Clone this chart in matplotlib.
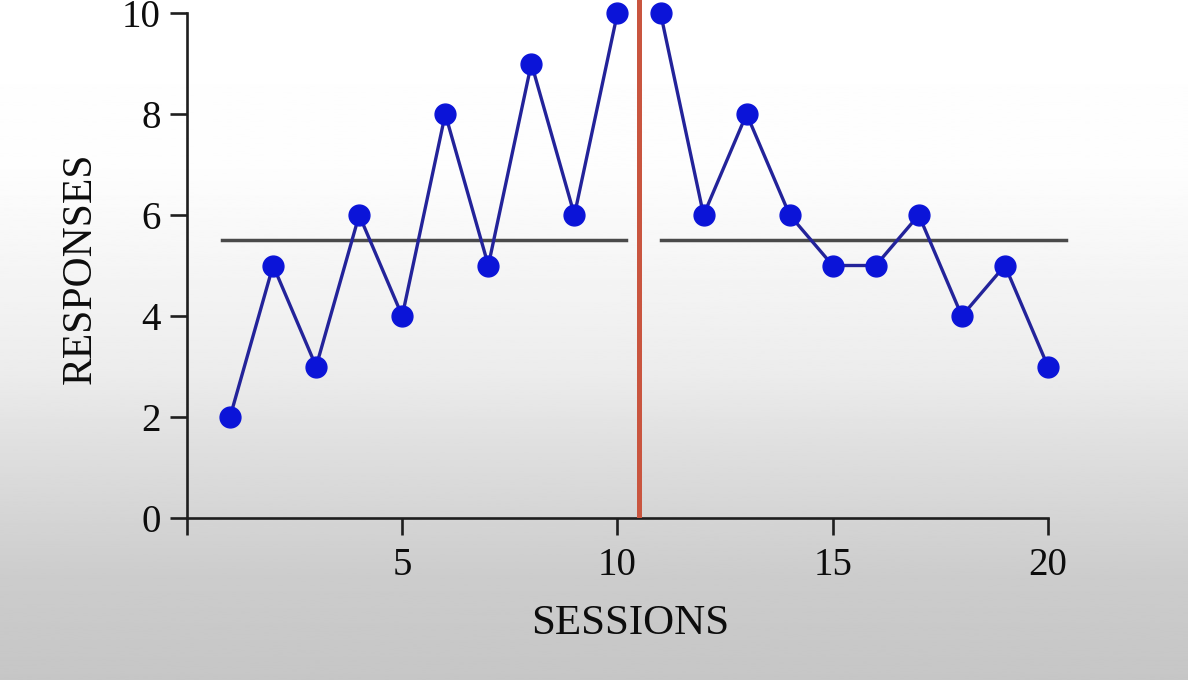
import numpy as np
import matplotlib
matplotlib.use('Agg')
import matplotlib.pyplot as plt

# data
sessions_a = [1, 2, 3, 4, 5, 6, 7, 8, 9, 10]
responses_a = [2, 5, 3, 6, 4, 8, 5, 9, 6, 10]
sessions_b = [11, 12, 13, 14, 15, 16, 17, 18, 19, 20]
responses_b = [10, 6, 8, 6, 5, 5, 6, 4, 5, 3]
mean_a = 5.5
mean_b = 5.5
phase_change = 10.5
yticks = [0, 2, 4, 6, 8, 10]
xticks = [0, 5, 10, 15, 20]
xticklabels = ['', '5', '10', '15', '20']

plt.rcParams['font.family'] = ['Liberation Serif', 'DejaVu Serif']

fig = plt.figure(figsize=(11.88, 6.80), dpi=100)

# grey-to-white background like the photographed slide
bg = fig.add_axes([0, 0, 1, 1], zorder=-10)
yy = np.array([0.0, 0.15, 0.35, 0.45, 0.66, 0.75, 1.0])
vv = np.array([198, 204, 224, 236, 248, 253, 255]) / 255.0
grad = np.interp(np.linspace(0, 1, 400), yy, vv)
bg.imshow(grad[:, None], aspect='auto', cmap='gray', vmin=0, vmax=1,
          origin='lower', extent=[0, 1, 0, 1])
bg.axis('off')

ax = fig.add_axes([187/1188, 162/680, 904/1188, 518/680])
ax.patch.set_alpha(0)

ax.plot(sessions_a, responses_a, color='#23239a', lw=2.4, marker='o',
        ms=15, mfc='#0b14d8', mec='#0b14d8', zorder=4, clip_on=False)
ax.plot(sessions_b, responses_b, color='#23239a', lw=2.4, marker='o',
        ms=15, mfc='#0b14d8', mec='#0b14d8', zorder=4, clip_on=False)

ax.plot([0.82, 10.2], [mean_a, mean_a], color='#4a4a4a', lw=2.5, zorder=2)
ax.plot([11.0, 20.42], [mean_b, mean_b], color='#4a4a4a', lw=2.5, zorder=2)

ax.axvline(phase_change, ymin=0, ymax=1, color='#c9553f', lw=3.6, zorder=3)

ax.set_xlim(0, 21)
ax.set_ylim(0, 518/50.5)
ax.spines['top'].set_visible(False)
ax.spines['right'].set_visible(False)
ax.spines['left'].set_bounds(0, 10)
ax.spines['bottom'].set_bounds(0, 20)
for s in ['left', 'bottom']:
    ax.spines[s].set_linewidth(1.9)
    ax.spines[s].set_color('#1e1e1e')

ax.set_yticks(yticks)
ax.set_xticks(xticks)
ax.set_xticklabels(xticklabels)
ax.tick_params(direction='out', length=12, width=1.9, color='#1e1e1e',
               labelsize=28, labelcolor='#0d0d0d')
ax.tick_params(axis='y', pad=7)
ax.tick_params(axis='x', pad=9)

ax.set_xlabel('SESSIONS', fontsize=31, color='#0d0d0d')
ax.xaxis.set_label_coords((630 - 187) / 904, -(605 - 518) / 518)
ax.set_ylabel('RESPONSES', fontsize=30, color='#0d0d0d')
ax.yaxis.set_label_coords(-(187 - 100) / 904, (518 - 268) / 518)

fig.savefig('out.png', dpi=100)
